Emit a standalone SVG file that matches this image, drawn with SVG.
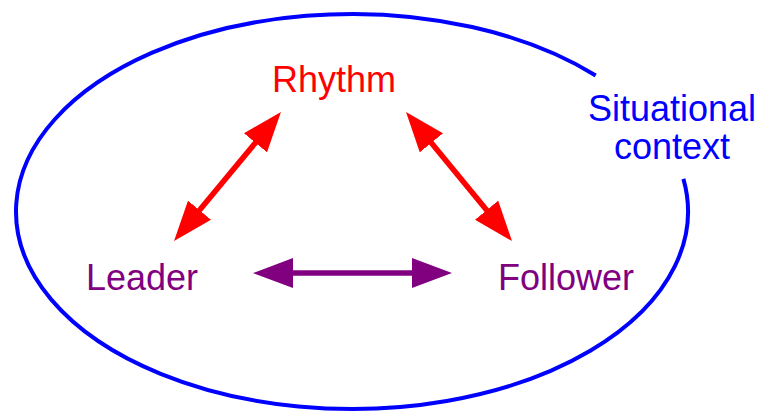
<svg xmlns="http://www.w3.org/2000/svg" width="760" height="412" viewBox="0 0 760 412">
<style>
.lbl{font-family:"Liberation Sans",Arial,sans-serif;font-size:36px;text-anchor:middle}
.red{fill:#ff0000}
.pur{fill:#800080}
.blu{fill:#0000ff}
.conn{stroke-width:5.5;fill:none}
</style>
<defs>
<marker id="hr" markerUnits="userSpaceOnUse" markerWidth="40" markerHeight="30" refX="20" refY="15" orient="auto-start-reverse" viewBox="0 0 40 30"><path d="M0,0 L40,15 L0,30 Z" fill="#ff0000"/></marker>
<marker id="hp" markerUnits="userSpaceOnUse" markerWidth="40" markerHeight="30" refX="20" refY="15" orient="auto-start-reverse" viewBox="0 0 40 30"><path d="M0,0 L40,15 L0,30 Z" fill="#800080"/></marker>
</defs>
<rect width="760" height="412" fill="#ffffff"/>
<g id="context">
<path d="M683.4 178.9 A336 197.5 0 1 1 595.7 75.5" fill="none" stroke="#0000ff" stroke-width="4"/>
<text class="lbl blu" x="672" y="121">Situational</text>
<text class="lbl blu" x="672" y="159">context</text>
</g>
<g id="rhythm"><text class="lbl red" x="334" y="92">Rhythm</text></g>
<g id="leader"><text class="lbl pur" x="142" y="290">Leader</text></g>
<g id="follower"><text class="lbl pur" x="566" y="290">Follower</text></g>
<g id="connectors">
<line class="conn" x1="268.2" y1="127.4" x2="186.8" y2="225.6" stroke="#ff0000" marker-start="url(#hr)" marker-end="url(#hr)"/>
<line class="conn" x1="418.7" y1="127.4" x2="499.3" y2="225.6" stroke="#ff0000" marker-start="url(#hr)" marker-end="url(#hr)"/>
<line class="conn" x1="273" y1="273" x2="432" y2="273" stroke="#800080" marker-start="url(#hp)" marker-end="url(#hp)"/>
</g>
</svg>
